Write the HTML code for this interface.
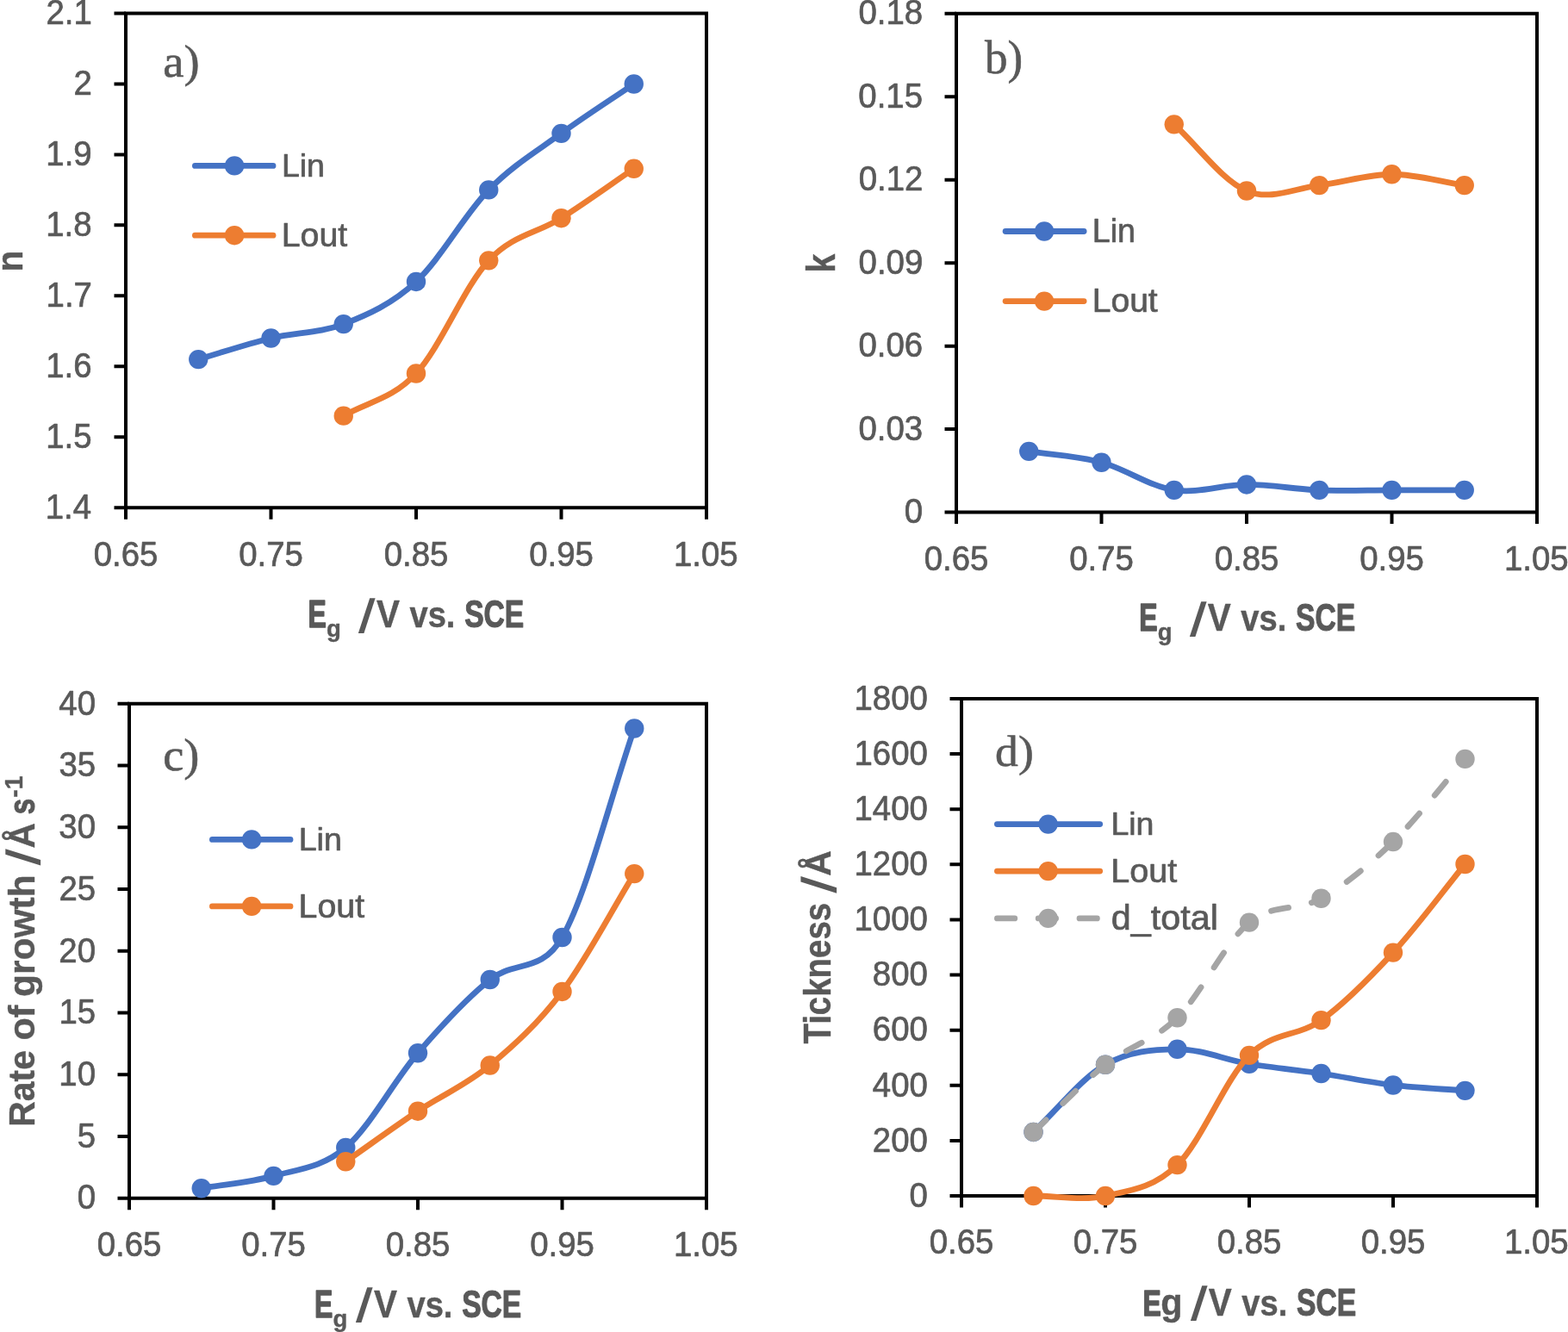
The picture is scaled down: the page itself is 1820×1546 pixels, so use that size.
<!DOCTYPE html>
<html><head><meta charset="utf-8"><title>Figure</title>
<style>html,body{margin:0;padding:0;background:#fff;}svg{display:block;}</style></head>
<body><svg width="1820" height="1546" viewBox="0 0 1820 1546">
<rect width="1820" height="1546" fill="#fff"/>
<g fill="#595959">
<path d="M146 15.5H820V589.2H146Z" fill="none" stroke="#000" stroke-width="4.0" stroke-linejoin="miter"/>
<path d="M132.5 589.2H146M132.5 507.24H146M132.5 425.29H146M132.5 343.33H146M132.5 261.37H146M132.5 179.41H146M132.5 97.46H146M132.5 15.5H146M146 589.2V602.7M314.5 589.2V602.7M483 589.2V602.7M651.5 589.2V602.7M820 589.2V602.7" fill="none" stroke="#000" stroke-width="4.0"/>
<path d="M230.25 417.09 C258.33 408.89 286.42 399.33 314.5 392.5 C342.58 385.67 370.67 387.04 398.75 376.11 C426.83 365.18 454.92 352.89 483 326.94 C511.08 300.98 539.17 249.08 567.25 220.39 C595.33 191.71 623.42 175.32 651.5 154.83 C679.58 134.34 707.67 116.58 735.75 97.46" fill="none" stroke="#4472C4" stroke-width="6.8" stroke-linecap="round" stroke-linejoin="round"/>
<circle cx="230.25" cy="417.09" r="11.2" fill="#4472C4"/>
<circle cx="314.5" cy="392.5" r="11.2" fill="#4472C4"/>
<circle cx="398.75" cy="376.11" r="11.2" fill="#4472C4"/>
<circle cx="483" cy="326.94" r="11.2" fill="#4472C4"/>
<circle cx="567.25" cy="220.39" r="11.2" fill="#4472C4"/>
<circle cx="651.5" cy="154.83" r="11.2" fill="#4472C4"/>
<circle cx="735.75" cy="97.46" r="11.2" fill="#4472C4"/>
<path d="M398.75 482.66 C426.83 466.26 454.92 463.53 483 433.48 C511.08 403.43 539.17 332.4 567.25 302.35 C595.33 272.3 623.42 270.93 651.5 253.18 C679.58 235.42 707.67 214.93 735.75 195.81" fill="none" stroke="#ED7D31" stroke-width="6.8" stroke-linecap="round" stroke-linejoin="round"/>
<circle cx="398.75" cy="482.66" r="11.2" fill="#ED7D31"/>
<circle cx="483" cy="433.48" r="11.2" fill="#ED7D31"/>
<circle cx="567.25" cy="302.35" r="11.2" fill="#ED7D31"/>
<circle cx="651.5" cy="253.18" r="11.2" fill="#ED7D31"/>
<circle cx="735.75" cy="195.81" r="11.2" fill="#ED7D31"/>
<text font-family='"Liberation Sans", Arial, sans-serif' stroke="#595959" stroke-width="0.7" stroke-linejoin="round" font-size="40" transform="translate(52.68 601.95) scale(0.9600 1.0000)">1.4</text>
<text font-family='"Liberation Sans", Arial, sans-serif' stroke="#595959" stroke-width="0.7" stroke-linejoin="round" font-size="40" transform="translate(53.16 519.99) scale(0.9600 1.0000)">1.5</text>
<text font-family='"Liberation Sans", Arial, sans-serif' stroke="#595959" stroke-width="0.7" stroke-linejoin="round" font-size="40" transform="translate(53.26 438.04) scale(0.9600 1.0000)">1.6</text>
<text font-family='"Liberation Sans", Arial, sans-serif' stroke="#595959" stroke-width="0.7" stroke-linejoin="round" font-size="40" transform="translate(53.54 356.08) scale(0.9600 1.0000)">1.7</text>
<text font-family='"Liberation Sans", Arial, sans-serif' stroke="#595959" stroke-width="0.7" stroke-linejoin="round" font-size="40" transform="translate(53.26 274.12) scale(0.9600 1.0000)">1.8</text>
<text font-family='"Liberation Sans", Arial, sans-serif' stroke="#595959" stroke-width="0.7" stroke-linejoin="round" font-size="40" transform="translate(53.35 192.16) scale(0.9600 1.0000)">1.9</text>
<text font-family='"Liberation Sans", Arial, sans-serif' stroke="#595959" stroke-width="0.7" stroke-linejoin="round" font-size="40" transform="translate(85.61 110.21) scale(0.9600 1.0000)">2</text>
<text font-family='"Liberation Sans", Arial, sans-serif' stroke="#595959" stroke-width="0.7" stroke-linejoin="round" font-size="40" transform="translate(53.45 28.25) scale(0.9600 1.0000)">2.1</text>
<text font-family='"Liberation Sans", Arial, sans-serif' stroke="#595959" stroke-width="0.7" stroke-linejoin="round" font-size="40" transform="translate(108.66 656.5) scale(0.9600 1.0000)">0.65</text>
<text font-family='"Liberation Sans", Arial, sans-serif' stroke="#595959" stroke-width="0.7" stroke-linejoin="round" font-size="40" transform="translate(277.16 656.5) scale(0.9600 1.0000)">0.75</text>
<text font-family='"Liberation Sans", Arial, sans-serif' stroke="#595959" stroke-width="0.7" stroke-linejoin="round" font-size="40" transform="translate(445.66 656.5) scale(0.9600 1.0000)">0.85</text>
<text font-family='"Liberation Sans", Arial, sans-serif' stroke="#595959" stroke-width="0.7" stroke-linejoin="round" font-size="40" transform="translate(614.16 656.5) scale(0.9600 1.0000)">0.95</text>
<text font-family='"Liberation Sans", Arial, sans-serif' stroke="#595959" stroke-width="0.7" stroke-linejoin="round" font-size="40" transform="translate(781.98 656.5) scale(0.9600 1.0000)">1.05</text>
<path d="M226.4 192.4H317" stroke="#4472C4" stroke-width="6.8" stroke-linecap="round"/>
<circle cx="272.1" cy="192.4" r="11.2" fill="#4472C4"/>
<text font-family='"Liberation Sans", Arial, sans-serif' stroke="#595959" stroke-width="0.7" stroke-linejoin="round" font-size="37.1" transform="translate(326.9 205) scale(1.0121 1.0000)">Lin</text>
<path d="M226.4 273.2H317" stroke="#ED7D31" stroke-width="6.8" stroke-linecap="round"/>
<circle cx="272.1" cy="273.2" r="11.2" fill="#ED7D31"/>
<text font-family='"Liberation Sans", Arial, sans-serif' stroke="#595959" stroke-width="0.7" stroke-linejoin="round" font-size="39.13" transform="translate(326.76 285.8) scale(1.0044 1.0000)">Lout</text>
<text font-family='"Liberation Serif", "Times New Roman", serif' stroke="#595959" stroke-width="0.6" stroke-linejoin="round" font-size="52.23" transform="translate(189.29 89.3) scale(1.0448 1.0000)">a)</text>
<text font-family='"Liberation Sans", Arial, sans-serif' font-weight="bold" stroke="#595959" stroke-width="1.46" stroke-linejoin="round" font-size="43.49" transform="translate(357.44 727.9) scale(0.7350 1.0000)">E</text>
<text font-family='"Liberation Sans", Arial, sans-serif' font-weight="bold" stroke="#595959" stroke-width="0.40" stroke-linejoin="round" font-size="27.6" transform="translate(378.9 738.74) scale(0.9973 1.0000)">g</text>
<text font-family='"Liberation Sans", Arial, sans-serif' font-weight="bold" font-size="55.03" transform="translate(415.6 733.5) skewX(-7.680)">/</text>
<text font-family='"Liberation Sans", Arial, sans-serif' font-weight="bold" stroke="#595959" stroke-width="0.43" stroke-linejoin="round" font-size="43.49" transform="translate(436.9 727.9) scale(0.9303 1.0000)">V</text>
<text font-family='"Liberation Sans", Arial, sans-serif' font-weight="bold" stroke="#595959" stroke-width="0.44" stroke-linejoin="round" font-size="42.23" transform="translate(475.41 727.9) scale(0.9040 1.0000)">vs.</text>
<text font-family='"Liberation Sans", Arial, sans-serif' font-weight="bold" stroke="#595959" stroke-width="1.15" stroke-linejoin="round" font-size="43.49" transform="translate(539.19 727.9) scale(0.7728 1.0000)">SCE</text>
<g transform="rotate(-90)"><text font-family='"Liberation Sans", Arial, sans-serif' font-weight="bold" stroke="#595959" stroke-width="0.42" stroke-linejoin="round" font-size="42.42" transform="translate(-315.44 25.9) scale(0.9576 1.0000)">n</text></g>
<path d="M1110 15.7H1784V594.6H1110Z" fill="none" stroke="#000" stroke-width="4.0" stroke-linejoin="miter"/>
<path d="M1096.5 594.6H1110M1096.5 498.12H1110M1096.5 401.63H1110M1096.5 305.15H1110M1096.5 208.67H1110M1096.5 112.18H1110M1096.5 15.7H1110M1110 594.6V608.1M1278.5 594.6V608.1M1447 594.6V608.1M1615.5 594.6V608.1M1784 594.6V608.1" fill="none" stroke="#000" stroke-width="4.0"/>
<path d="M1194.25 523.85 C1222.33 528.13 1250.42 529.21 1278.5 536.71 C1306.58 544.21 1334.67 564.58 1362.75 568.87 C1390.83 573.16 1418.92 562.44 1447 562.44 C1475.08 562.44 1503.17 567.8 1531.25 568.87 C1559.33 569.94 1587.42 568.87 1615.5 568.87 C1643.58 568.87 1671.67 568.87 1699.75 568.87" fill="none" stroke="#4472C4" stroke-width="6.8" stroke-linecap="round" stroke-linejoin="round"/>
<circle cx="1194.25" cy="523.85" r="11.2" fill="#4472C4"/>
<circle cx="1278.5" cy="536.71" r="11.2" fill="#4472C4"/>
<circle cx="1362.75" cy="568.87" r="11.2" fill="#4472C4"/>
<circle cx="1447" cy="562.44" r="11.2" fill="#4472C4"/>
<circle cx="1531.25" cy="568.87" r="11.2" fill="#4472C4"/>
<circle cx="1615.5" cy="568.87" r="11.2" fill="#4472C4"/>
<circle cx="1699.75" cy="568.87" r="11.2" fill="#4472C4"/>
<path d="M1362.75 144.34 C1390.83 170.07 1418.92 209.74 1447 221.53 C1475.08 233.32 1503.17 218.32 1531.25 215.1 C1559.33 211.88 1587.42 202.23 1615.5 202.23 C1643.58 202.23 1671.67 210.81 1699.75 215.1" fill="none" stroke="#ED7D31" stroke-width="6.8" stroke-linecap="round" stroke-linejoin="round"/>
<circle cx="1362.75" cy="144.34" r="11.2" fill="#ED7D31"/>
<circle cx="1447" cy="221.53" r="11.2" fill="#ED7D31"/>
<circle cx="1531.25" cy="215.1" r="11.2" fill="#ED7D31"/>
<circle cx="1615.5" cy="202.23" r="11.2" fill="#ED7D31"/>
<circle cx="1699.75" cy="215.1" r="11.2" fill="#ED7D31"/>
<text font-family='"Liberation Sans", Arial, sans-serif' stroke="#595959" stroke-width="0.7" stroke-linejoin="round" font-size="40" transform="translate(1049.63 607.35) scale(0.9600 1.0000)">0</text>
<text font-family='"Liberation Sans", Arial, sans-serif' stroke="#595959" stroke-width="0.7" stroke-linejoin="round" font-size="40" transform="translate(996.44 510.87) scale(0.9600 1.0000)">0.03</text>
<text font-family='"Liberation Sans", Arial, sans-serif' stroke="#595959" stroke-width="0.7" stroke-linejoin="round" font-size="40" transform="translate(996.44 414.38) scale(0.9600 1.0000)">0.06</text>
<text font-family='"Liberation Sans", Arial, sans-serif' stroke="#595959" stroke-width="0.7" stroke-linejoin="round" font-size="40" transform="translate(996.54 317.9) scale(0.9600 1.0000)">0.09</text>
<text font-family='"Liberation Sans", Arial, sans-serif' stroke="#595959" stroke-width="0.7" stroke-linejoin="round" font-size="40" transform="translate(996.73 221.42) scale(0.9600 1.0000)">0.12</text>
<text font-family='"Liberation Sans", Arial, sans-serif' stroke="#595959" stroke-width="0.7" stroke-linejoin="round" font-size="40" transform="translate(996.35 124.93) scale(0.9600 1.0000)">0.15</text>
<text font-family='"Liberation Sans", Arial, sans-serif' stroke="#595959" stroke-width="0.7" stroke-linejoin="round" font-size="40" transform="translate(996.44 28.45) scale(0.9600 1.0000)">0.18</text>
<text font-family='"Liberation Sans", Arial, sans-serif' stroke="#595959" stroke-width="0.7" stroke-linejoin="round" font-size="40" transform="translate(1072.66 661.9) scale(0.9600 1.0000)">0.65</text>
<text font-family='"Liberation Sans", Arial, sans-serif' stroke="#595959" stroke-width="0.7" stroke-linejoin="round" font-size="40" transform="translate(1241.16 661.9) scale(0.9600 1.0000)">0.75</text>
<text font-family='"Liberation Sans", Arial, sans-serif' stroke="#595959" stroke-width="0.7" stroke-linejoin="round" font-size="40" transform="translate(1409.66 661.9) scale(0.9600 1.0000)">0.85</text>
<text font-family='"Liberation Sans", Arial, sans-serif' stroke="#595959" stroke-width="0.7" stroke-linejoin="round" font-size="40" transform="translate(1578.16 661.9) scale(0.9600 1.0000)">0.95</text>
<text font-family='"Liberation Sans", Arial, sans-serif' stroke="#595959" stroke-width="0.7" stroke-linejoin="round" font-size="40" transform="translate(1745.98 661.9) scale(0.9600 1.0000)">1.05</text>
<path d="M1167.1 268.5H1258.1" stroke="#4472C4" stroke-width="6.8" stroke-linecap="round"/>
<circle cx="1212.1" cy="268.5" r="11.2" fill="#4472C4"/>
<text font-family='"Liberation Sans", Arial, sans-serif' stroke="#595959" stroke-width="0.7" stroke-linejoin="round" font-size="37.93" transform="translate(1267.8 281.1) scale(0.9900 1.0000)">Lin</text>
<path d="M1167.1 349.6H1258.1" stroke="#ED7D31" stroke-width="6.8" stroke-linecap="round"/>
<circle cx="1212.1" cy="349.6" r="11.2" fill="#ED7D31"/>
<text font-family='"Liberation Sans", Arial, sans-serif' stroke="#595959" stroke-width="0.7" stroke-linejoin="round" font-size="39.27" transform="translate(1267.68 361.9) scale(0.9952 1.0000)">Lout</text>
<text font-family='"Liberation Serif", "Times New Roman", serif' stroke="#595959" stroke-width="0.6" stroke-linejoin="round" font-size="54.1" transform="translate(1142.9 85.4) scale(0.9804 1.0000)">b)</text>
<text font-family='"Liberation Sans", Arial, sans-serif' font-weight="bold" stroke="#595959" stroke-width="1.46" stroke-linejoin="round" font-size="43.49" transform="translate(1322.24 732.4) scale(0.7350 1.0000)">E</text>
<text font-family='"Liberation Sans", Arial, sans-serif' font-weight="bold" stroke="#595959" stroke-width="0.40" stroke-linejoin="round" font-size="27.6" transform="translate(1343.7 743.24) scale(0.9973 1.0000)">g</text>
<text font-family='"Liberation Sans", Arial, sans-serif' font-weight="bold" font-size="55.03" transform="translate(1380.4 738) skewX(-7.680)">/</text>
<text font-family='"Liberation Sans", Arial, sans-serif' font-weight="bold" stroke="#595959" stroke-width="0.43" stroke-linejoin="round" font-size="43.49" transform="translate(1401.7 732.4) scale(0.9303 1.0000)">V</text>
<text font-family='"Liberation Sans", Arial, sans-serif' font-weight="bold" stroke="#595959" stroke-width="0.44" stroke-linejoin="round" font-size="42.23" transform="translate(1440.21 732.4) scale(0.9040 1.0000)">vs.</text>
<text font-family='"Liberation Sans", Arial, sans-serif' font-weight="bold" stroke="#595959" stroke-width="1.15" stroke-linejoin="round" font-size="43.49" transform="translate(1503.99 732.4) scale(0.7728 1.0000)">SCE</text>
<g transform="rotate(-90)"><text font-family='"Liberation Sans", Arial, sans-serif' font-weight="bold" stroke="#595959" stroke-width="0.50" stroke-linejoin="round" font-size="45.38" transform="translate(-316.54 968.9) scale(0.8634 1.0000)">k</text></g>
<path d="M150 816.8H820V1390.7H150Z" fill="none" stroke="#000" stroke-width="4.0" stroke-linejoin="miter"/>
<path d="M136.5 1390.7H150M136.5 1318.96H150M136.5 1247.22H150M136.5 1175.49H150M136.5 1103.75H150M136.5 1032.01H150M136.5 960.27H150M136.5 888.54H150M136.5 816.8H150M150 1390.7V1404.2M317.5 1390.7V1404.2M485 1390.7V1404.2M652.5 1390.7V1404.2M820 1390.7V1404.2" fill="none" stroke="#000" stroke-width="4.0"/>
<path d="M233.75 1379.22 C261.67 1374.44 289.58 1372.77 317.5 1364.87 C345.42 1356.98 373.33 1355.64 401.25 1331.88 C429.17 1308.11 457.08 1254.73 485 1222.26 C512.92 1189.79 540.83 1159.42 568.75 1137.04 C596.67 1114.65 628.32 1130.05 652.5 1087.97 C680.42 1039.38 708.33 926.32 736.25 845.5" fill="none" stroke="#4472C4" stroke-width="6.8" stroke-linecap="round" stroke-linejoin="round"/>
<circle cx="233.75" cy="1379.22" r="11.2" fill="#4472C4"/>
<circle cx="317.5" cy="1364.87" r="11.2" fill="#4472C4"/>
<circle cx="401.25" cy="1331.88" r="11.2" fill="#4472C4"/>
<circle cx="485" cy="1222.26" r="11.2" fill="#4472C4"/>
<circle cx="568.75" cy="1137.04" r="11.2" fill="#4472C4"/>
<circle cx="652.5" cy="1087.97" r="11.2" fill="#4472C4"/>
<circle cx="736.25" cy="845.5" r="11.2" fill="#4472C4"/>
<path d="M401.25 1348.23 C429.17 1328.72 457.08 1308.32 485 1289.69 C512.92 1271.07 540.83 1259.59 568.75 1236.46 C596.67 1213.34 624.58 1188.02 652.5 1150.95 C680.42 1113.89 708.33 1059.7 736.25 1014.08" fill="none" stroke="#ED7D31" stroke-width="6.8" stroke-linecap="round" stroke-linejoin="round"/>
<circle cx="401.25" cy="1348.23" r="11.2" fill="#ED7D31"/>
<circle cx="485" cy="1289.69" r="11.2" fill="#ED7D31"/>
<circle cx="568.75" cy="1236.46" r="11.2" fill="#ED7D31"/>
<circle cx="652.5" cy="1150.95" r="11.2" fill="#ED7D31"/>
<circle cx="736.25" cy="1014.08" r="11.2" fill="#ED7D31"/>
<text font-family='"Liberation Sans", Arial, sans-serif' stroke="#595959" stroke-width="0.7" stroke-linejoin="round" font-size="40" transform="translate(89.63 1403.45) scale(0.9600 1.0000)">0</text>
<text font-family='"Liberation Sans", Arial, sans-serif' stroke="#595959" stroke-width="0.7" stroke-linejoin="round" font-size="40" transform="translate(89.72 1331.71) scale(0.9600 1.0000)">5</text>
<text font-family='"Liberation Sans", Arial, sans-serif' stroke="#595959" stroke-width="0.7" stroke-linejoin="round" font-size="40" transform="translate(68.32 1259.97) scale(0.9600 1.0000)">10</text>
<text font-family='"Liberation Sans", Arial, sans-serif' stroke="#595959" stroke-width="0.7" stroke-linejoin="round" font-size="40" transform="translate(68.41 1188.24) scale(0.9600 1.0000)">15</text>
<text font-family='"Liberation Sans", Arial, sans-serif' stroke="#595959" stroke-width="0.7" stroke-linejoin="round" font-size="40" transform="translate(68.32 1116.5) scale(0.9600 1.0000)">20</text>
<text font-family='"Liberation Sans", Arial, sans-serif' stroke="#595959" stroke-width="0.7" stroke-linejoin="round" font-size="40" transform="translate(68.41 1044.76) scale(0.9600 1.0000)">25</text>
<text font-family='"Liberation Sans", Arial, sans-serif' stroke="#595959" stroke-width="0.7" stroke-linejoin="round" font-size="40" transform="translate(68.32 973.02) scale(0.9600 1.0000)">30</text>
<text font-family='"Liberation Sans", Arial, sans-serif' stroke="#595959" stroke-width="0.7" stroke-linejoin="round" font-size="40" transform="translate(68.41 901.29) scale(0.9600 1.0000)">35</text>
<text font-family='"Liberation Sans", Arial, sans-serif' stroke="#595959" stroke-width="0.7" stroke-linejoin="round" font-size="40" transform="translate(68.32 829.55) scale(0.9600 1.0000)">40</text>
<text font-family='"Liberation Sans", Arial, sans-serif' stroke="#595959" stroke-width="0.7" stroke-linejoin="round" font-size="40" transform="translate(112.66 1458) scale(0.9600 1.0000)">0.65</text>
<text font-family='"Liberation Sans", Arial, sans-serif' stroke="#595959" stroke-width="0.7" stroke-linejoin="round" font-size="40" transform="translate(280.16 1458) scale(0.9600 1.0000)">0.75</text>
<text font-family='"Liberation Sans", Arial, sans-serif' stroke="#595959" stroke-width="0.7" stroke-linejoin="round" font-size="40" transform="translate(447.66 1458) scale(0.9600 1.0000)">0.85</text>
<text font-family='"Liberation Sans", Arial, sans-serif' stroke="#595959" stroke-width="0.7" stroke-linejoin="round" font-size="40" transform="translate(615.16 1458) scale(0.9600 1.0000)">0.95</text>
<text font-family='"Liberation Sans", Arial, sans-serif' stroke="#595959" stroke-width="0.7" stroke-linejoin="round" font-size="40" transform="translate(781.98 1458) scale(0.9600 1.0000)">1.05</text>
<path d="M246.4 974.4H337" stroke="#4472C4" stroke-width="6.8" stroke-linecap="round"/>
<circle cx="292.1" cy="974.4" r="11.2" fill="#4472C4"/>
<text font-family='"Liberation Sans", Arial, sans-serif' stroke="#595959" stroke-width="0.7" stroke-linejoin="round" font-size="37.52" transform="translate(346.7 987)">Lin</text>
<path d="M246.4 1051.9H337" stroke="#ED7D31" stroke-width="6.8" stroke-linecap="round"/>
<circle cx="292.1" cy="1051.9" r="11.2" fill="#ED7D31"/>
<text font-family='"Liberation Sans", Arial, sans-serif' stroke="#595959" stroke-width="0.7" stroke-linejoin="round" font-size="39.42" transform="translate(346.56 1064.7) scale(0.9970 1.0000)">Lout</text>
<text font-family='"Liberation Serif", "Times New Roman", serif' stroke="#595959" stroke-width="0.6" stroke-linejoin="round" font-size="52.52" transform="translate(189.26 893.5) scale(1.0346 1.0000)">c)</text>
<text font-family='"Liberation Sans", Arial, sans-serif' font-weight="bold" stroke="#595959" stroke-width="1.46" stroke-linejoin="round" font-size="43.49" transform="translate(365.04 1528.8) scale(0.7350 1.0000)">E</text>
<text font-family='"Liberation Sans", Arial, sans-serif' font-weight="bold" stroke="#595959" stroke-width="0.40" stroke-linejoin="round" font-size="27.6" transform="translate(386.5 1539.63) scale(0.9973 1.0000)">g</text>
<text font-family='"Liberation Sans", Arial, sans-serif' font-weight="bold" font-size="55.03" transform="translate(412.6 1534.4) skewX(-7.680)">/</text>
<text font-family='"Liberation Sans", Arial, sans-serif' font-weight="bold" stroke="#595959" stroke-width="0.43" stroke-linejoin="round" font-size="43.49" transform="translate(433.9 1528.8) scale(0.9303 1.0000)">V</text>
<text font-family='"Liberation Sans", Arial, sans-serif' font-weight="bold" stroke="#595959" stroke-width="0.44" stroke-linejoin="round" font-size="42.23" transform="translate(472.41 1528.8) scale(0.9040 1.0000)">vs.</text>
<text font-family='"Liberation Sans", Arial, sans-serif' font-weight="bold" stroke="#595959" stroke-width="1.15" stroke-linejoin="round" font-size="43.49" transform="translate(536.19 1528.8) scale(0.7728 1.0000)">SCE</text>
<g transform="rotate(-90)"><text font-family='"Liberation Sans", Arial, sans-serif' font-weight="bold" stroke="#595959" stroke-width="0.42" stroke-linejoin="round" font-size="43.35" transform="translate(-1307.66 40.3) scale(0.9429 1.0000)">Rate</text></g>
<g transform="rotate(-90)"><text font-family='"Liberation Sans", Arial, sans-serif' font-weight="bold" stroke="#595959" stroke-width="0.40" stroke-linejoin="round" font-size="43.35" transform="translate(-1207.52 40.3) scale(0.9942 1.0000)">of</text></g>
<g transform="rotate(-90)"><text font-family='"Liberation Sans", Arial, sans-serif' font-weight="bold" stroke="#595959" stroke-width="0.41" stroke-linejoin="round" font-size="43.35" transform="translate(-1157 40.3) scale(0.9806 1.0000)">growth</text></g>
<g transform="rotate(-90)"><text font-family='"Liberation Sans", Arial, sans-serif' font-weight="bold" font-size="54.77" transform="translate(-1004.91 46.1) skewX(-7.260)">/</text></g>
<g transform="rotate(-90)"><text font-family='"Liberation Sans", Arial, sans-serif' font-weight="bold" stroke="#595959" stroke-width="0.43" stroke-linejoin="round" font-size="43.35" transform="translate(-984.61 40.3) scale(0.9366 1.0000)">Å</text></g>
<g transform="rotate(-90)"><text font-family='"Liberation Sans", Arial, sans-serif' font-weight="bold" stroke="#595959" stroke-width="1.08" stroke-linejoin="round" font-size="42.42" transform="translate(-945.16 40.3) scale(0.7809 1.0000)">s</text></g>
<g transform="rotate(-90)"><text font-family='"Liberation Sans", Arial, sans-serif' font-weight="bold" stroke="#595959" stroke-width="0.41" stroke-linejoin="round" font-size="29.38" transform="translate(-925.74 26) scale(0.9671 1.0000)">-1</text></g>
<path d="M1116 811H1784V1388H1116Z" fill="none" stroke="#000" stroke-width="4.0" stroke-linejoin="miter"/>
<path d="M1102.5 1388H1116M1102.5 1323.89H1116M1102.5 1259.78H1116M1102.5 1195.67H1116M1102.5 1131.56H1116M1102.5 1067.44H1116M1102.5 1003.33H1116M1102.5 939.22H1116M1102.5 875.11H1116M1102.5 811H1116M1116 1388V1401.5M1283 1388V1401.5M1450 1388V1401.5M1617 1388V1401.5M1784 1388V1401.5" fill="none" stroke="#000" stroke-width="4.0"/>
<path d="M1199.5 1313.95 C1227.33 1287.88 1255.17 1251.76 1283 1235.74 C1310.83 1219.71 1338.67 1217.95 1366.5 1217.79 C1394.33 1217.62 1422.17 1230.07 1450 1234.77 C1477.83 1239.48 1505.67 1241.88 1533.5 1245.99 C1561.33 1250.11 1589.17 1256.14 1617 1259.46 C1644.83 1262.77 1672.67 1263.73 1700.5 1265.87" fill="none" stroke="#4472C4" stroke-width="6.8" stroke-linecap="round" stroke-linejoin="round"/>
<circle cx="1199.5" cy="1313.95" r="11.2" fill="#4472C4"/>
<circle cx="1283" cy="1235.74" r="11.2" fill="#4472C4"/>
<circle cx="1366.5" cy="1217.79" r="11.2" fill="#4472C4"/>
<circle cx="1450" cy="1234.77" r="11.2" fill="#4472C4"/>
<circle cx="1533.5" cy="1245.99" r="11.2" fill="#4472C4"/>
<circle cx="1617" cy="1259.46" r="11.2" fill="#4472C4"/>
<circle cx="1700.5" cy="1265.87" r="11.2" fill="#4472C4"/>
<path d="M1199.5 1388 C1227.33 1388 1255.17 1393.98 1283 1388 C1310.83 1382.02 1338.67 1379.29 1366.5 1352.1 C1394.33 1324.9 1422.17 1252.83 1450 1224.84 C1477.83 1196.84 1505.67 1204 1533.5 1184.13 C1561.33 1164.25 1589.17 1135.78 1617 1105.59 C1644.83 1075.4 1672.67 1037.21 1700.5 1003.01" fill="none" stroke="#ED7D31" stroke-width="6.8" stroke-linecap="round" stroke-linejoin="round"/>
<circle cx="1199.5" cy="1388" r="11.2" fill="#ED7D31"/>
<circle cx="1283" cy="1388" r="11.2" fill="#ED7D31"/>
<circle cx="1366.5" cy="1352.1" r="11.2" fill="#ED7D31"/>
<circle cx="1450" cy="1224.84" r="11.2" fill="#ED7D31"/>
<circle cx="1533.5" cy="1184.13" r="11.2" fill="#ED7D31"/>
<circle cx="1617" cy="1105.59" r="11.2" fill="#ED7D31"/>
<circle cx="1700.5" cy="1003.01" r="11.2" fill="#ED7D31"/>
<path d="M1199.5 1313.95 C1227.33 1287.88 1255.17 1257.85 1283 1235.74 C1310.83 1213.62 1338.67 1208.76 1366.5 1181.24 C1394.33 1153.73 1422.17 1093.73 1450 1070.65 C1477.83 1047.57 1505.67 1058.36 1533.5 1042.76 C1561.33 1027.16 1589.17 1004.03 1617 977.05 C1644.83 950.07 1672.67 912.94 1700.5 880.88" fill="none" stroke="#A5A5A5" stroke-width="6.8" stroke-linecap="round" stroke-linejoin="round" stroke-dasharray="20.4 27.4"/>
<circle cx="1199.5" cy="1313.95" r="11.2" fill="#A5A5A5"/>
<circle cx="1283" cy="1235.74" r="11.2" fill="#A5A5A5"/>
<circle cx="1366.5" cy="1181.24" r="11.2" fill="#A5A5A5"/>
<circle cx="1450" cy="1070.65" r="11.2" fill="#A5A5A5"/>
<circle cx="1533.5" cy="1042.76" r="11.2" fill="#A5A5A5"/>
<circle cx="1617" cy="977.05" r="11.2" fill="#A5A5A5"/>
<circle cx="1700.5" cy="880.88" r="11.2" fill="#A5A5A5"/>
<text font-family='"Liberation Sans", Arial, sans-serif' stroke="#595959" stroke-width="0.7" stroke-linejoin="round" font-size="40" transform="translate(1055.53 1400.75) scale(0.9600 1.0000)">0</text>
<text font-family='"Liberation Sans", Arial, sans-serif' stroke="#595959" stroke-width="0.7" stroke-linejoin="round" font-size="40" transform="translate(1012.81 1336.64) scale(0.9600 1.0000)">200</text>
<text font-family='"Liberation Sans", Arial, sans-serif' stroke="#595959" stroke-width="0.7" stroke-linejoin="round" font-size="40" transform="translate(1012.81 1272.53) scale(0.9600 1.0000)">400</text>
<text font-family='"Liberation Sans", Arial, sans-serif' stroke="#595959" stroke-width="0.7" stroke-linejoin="round" font-size="40" transform="translate(1012.81 1208.42) scale(0.9600 1.0000)">600</text>
<text font-family='"Liberation Sans", Arial, sans-serif' stroke="#595959" stroke-width="0.7" stroke-linejoin="round" font-size="40" transform="translate(1012.81 1144.31) scale(0.9600 1.0000)">800</text>
<text font-family='"Liberation Sans", Arial, sans-serif' stroke="#595959" stroke-width="0.7" stroke-linejoin="round" font-size="40" transform="translate(991.5 1080.19) scale(0.9600 1.0000)">1000</text>
<text font-family='"Liberation Sans", Arial, sans-serif' stroke="#595959" stroke-width="0.7" stroke-linejoin="round" font-size="40" transform="translate(991.5 1016.08) scale(0.9600 1.0000)">1200</text>
<text font-family='"Liberation Sans", Arial, sans-serif' stroke="#595959" stroke-width="0.7" stroke-linejoin="round" font-size="40" transform="translate(991.5 951.97) scale(0.9600 1.0000)">1400</text>
<text font-family='"Liberation Sans", Arial, sans-serif' stroke="#595959" stroke-width="0.7" stroke-linejoin="round" font-size="40" transform="translate(991.5 887.86) scale(0.9600 1.0000)">1600</text>
<text font-family='"Liberation Sans", Arial, sans-serif' stroke="#595959" stroke-width="0.7" stroke-linejoin="round" font-size="40" transform="translate(991.5 823.75) scale(0.9600 1.0000)">1800</text>
<text font-family='"Liberation Sans", Arial, sans-serif' stroke="#595959" stroke-width="0.7" stroke-linejoin="round" font-size="40" transform="translate(1078.66 1455.3) scale(0.9600 1.0000)">0.65</text>
<text font-family='"Liberation Sans", Arial, sans-serif' stroke="#595959" stroke-width="0.7" stroke-linejoin="round" font-size="40" transform="translate(1245.66 1455.3) scale(0.9600 1.0000)">0.75</text>
<text font-family='"Liberation Sans", Arial, sans-serif' stroke="#595959" stroke-width="0.7" stroke-linejoin="round" font-size="40" transform="translate(1412.66 1455.3) scale(0.9600 1.0000)">0.85</text>
<text font-family='"Liberation Sans", Arial, sans-serif' stroke="#595959" stroke-width="0.7" stroke-linejoin="round" font-size="40" transform="translate(1579.66 1455.3) scale(0.9600 1.0000)">0.95</text>
<text font-family='"Liberation Sans", Arial, sans-serif' stroke="#595959" stroke-width="0.7" stroke-linejoin="round" font-size="40" transform="translate(1745.98 1455.3) scale(0.9600 1.0000)">1.05</text>
<path d="M1157.4 956.6H1276.7" stroke="#4472C4" stroke-width="6.8" stroke-linecap="round"/>
<circle cx="1216.6" cy="956.6" r="11.2" fill="#4472C4"/>
<text font-family='"Liberation Sans", Arial, sans-serif' stroke="#595959" stroke-width="0.7" stroke-linejoin="round" font-size="37.38" transform="translate(1289.4 969.4) scale(1.0046 1.0000)">Lin</text>
<path d="M1157.4 1011.1H1276.7" stroke="#ED7D31" stroke-width="6.8" stroke-linecap="round"/>
<circle cx="1216.6" cy="1011.1" r="11.2" fill="#ED7D31"/>
<text font-family='"Liberation Sans", Arial, sans-serif' stroke="#595959" stroke-width="0.7" stroke-linejoin="round" font-size="38.84" transform="translate(1289.24 1024.2) scale(1.0175 1.0000)">Lout</text>
<path d="M1157.4 1065.9H1276.7" stroke="#A5A5A5" stroke-width="6.8" stroke-linecap="round" stroke-dasharray="20.4 27.4"/>
<circle cx="1216.6" cy="1065.9" r="11.2" fill="#A5A5A5"/>
<text font-family='"Liberation Sans", Arial, sans-serif' stroke="#595959" stroke-width="0.7" stroke-linejoin="round" font-size="39.72" transform="translate(1289.84 1079) scale(1.0400 1.0000)">d_total</text>
<text font-family='"Liberation Serif", "Times New Roman", serif' stroke="#595959" stroke-width="0.6" stroke-linejoin="round" font-size="51.65" transform="translate(1155.12 888.7) scale(1.0385 1.0000)">d)</text>
<text font-family='"Liberation Sans", Arial, sans-serif' font-weight="bold" stroke="#595959" stroke-width="1.40" stroke-linejoin="round" font-size="43.05" transform="translate(1326.44 1526.5) scale(0.7424 1.0000)">E</text>
<text font-family='"Liberation Sans", Arial, sans-serif' font-weight="bold" stroke="#595959" stroke-width="0.40" stroke-linejoin="round" font-size="41.6" transform="translate(1347.34 1526.26) scale(0.9949 1.0000)">g</text>
<text font-family='"Liberation Sans", Arial, sans-serif' font-weight="bold" font-size="55.03" transform="translate(1381.4 1532.1) skewX(-7.680)">/</text>
<text font-family='"Liberation Sans", Arial, sans-serif' font-weight="bold" stroke="#595959" stroke-width="0.43" stroke-linejoin="round" font-size="43.49" transform="translate(1402.7 1526.5) scale(0.9303 1.0000)">V</text>
<text font-family='"Liberation Sans", Arial, sans-serif' font-weight="bold" stroke="#595959" stroke-width="0.44" stroke-linejoin="round" font-size="42.23" transform="translate(1441.21 1526.5) scale(0.9040 1.0000)">vs.</text>
<text font-family='"Liberation Sans", Arial, sans-serif' font-weight="bold" stroke="#595959" stroke-width="1.15" stroke-linejoin="round" font-size="43.49" transform="translate(1504.99 1526.5) scale(0.7728 1.0000)">SCE</text>
<g transform="rotate(-90)"><text font-family='"Liberation Sans", Arial, sans-serif' font-weight="bold" stroke="#595959" stroke-width="0.45" stroke-linejoin="round" font-size="43.49" transform="translate(-1211.58 963.5) scale(0.8837 1.0000)">Tickness</text></g>
<g transform="rotate(-90)"><text font-family='"Liberation Sans", Arial, sans-serif' font-weight="bold" font-size="55.97" transform="translate(-1037.22 969.68) skewX(-7.361)">/</text></g>
<g transform="rotate(-90)"><text font-family='"Liberation Sans", Arial, sans-serif' font-weight="bold" stroke="#595959" stroke-width="0.42" stroke-linejoin="round" font-size="43.2" transform="translate(-1016.83 963.7) scale(0.9501 1.0000)">Å</text></g>
</g>
</svg></body></html>
